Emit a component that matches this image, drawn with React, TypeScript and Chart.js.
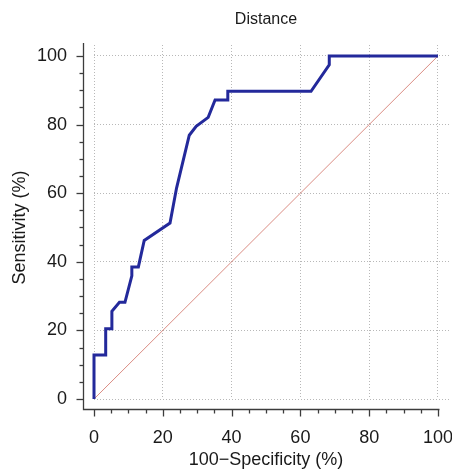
import React, { useEffect, useRef } from 'react';
import { Chart, registerables } from 'chart.js';

Chart.register(...registerables);

// ROC curve points (100 - specificity, sensitivity), in %
const fpr = [0, 0, 3.4, 3.4, 5.2, 5.2, 7.4, 9.0, 11.0, 11.0, 12.9, 14.6, 22.1, 24.0, 27.7, 29.7, 33.2, 35.2, 38.9, 38.9, 63.1, 68.4, 68.4, 100];
const tpr = [0, 12.8, 12.8, 20.5, 20.5, 25.6, 28.2, 28.2, 35.9, 38.5, 38.5, 46.2, 51.3, 61.5, 76.9, 79.5, 82.1, 87.2, 87.2, 89.7, 89.7, 97.4, 100, 100];

// Reference (chance) diagonal
const refX = [0, 100];
const refY = [0, 100];

const majorTicks = [0, 20, 40, 60, 80, 100];
const minorTicks = [0, 5, 10, 15, 20, 25, 30, 35, 40, 45, 50, 55, 60, 65, 70, 75, 80, 85, 90, 95, 100];

const chartTitle = 'Distance';
const xTitle = '100\u2212Specificity (%)';
const yTitle = 'Sensitivity (%)';

const FONT = '"Liberation Sans", Arial, Helvetica, sans-serif';
const TEXT = '#1a1a1a';

const axesPlugin = {
  id: 'rocAxes',
  afterDraw(chart: any) {
    const { ctx, chartArea, scales } = chart;
    const xs = scales.x;
    const ys = scales.y;
    const axisX = Math.round(chartArea.left - 11) + 0.5;
    const axisY = Math.round(chartArea.bottom + 10) + 0.5;
    ctx.save();
    ctx.strokeStyle = '#3c3c3c';
    ctx.lineWidth = 1.3;
    ctx.beginPath();
    ctx.moveTo(axisX, chartArea.top - 2);
    ctx.lineTo(axisX, axisY);
    ctx.lineTo(xs.getPixelForValue(100) + 1.5, axisY);
    ctx.stroke();
    for (const v of minorTicks) {
      const major = majorTicks.includes(v);
      const len = major ? 7 : 4;
      const py = Math.round(ys.getPixelForValue(v)) + 0.5;
      ctx.beginPath();
      ctx.moveTo(axisX - len, py);
      ctx.lineTo(axisX, py);
      ctx.stroke();
      const px = Math.round(xs.getPixelForValue(v)) + 0.5;
      ctx.beginPath();
      ctx.moveTo(px, axisY);
      ctx.lineTo(px, axisY + len);
      ctx.stroke();
    }
    ctx.fillStyle = TEXT;
    ctx.textAlign = 'center';
    ctx.textBaseline = 'middle';
    ctx.font = `16px ${FONT}`;
    ctx.fillText(chartTitle, xs.getPixelForValue(50), 20);
    ctx.font = `18px ${FONT}`;
    ctx.fillText(xTitle, xs.getPixelForValue(50), 460);
    ctx.translate(20, ys.getPixelForValue(50));
    ctx.rotate(-Math.PI / 2);
    ctx.fillText(yTitle, 0, 0);
    ctx.restore();
  },
};

export default function App() {
  const canvasRef = useRef<HTMLCanvasElement | null>(null);

  useEffect(() => {
    const canvas = canvasRef.current;
    if (!canvas) return;
    const gridCommon = {
      color: '#b8b8b8',
      lineWidth: 1,
      drawTicks: false,
      borderDash: [1, 2],
    };
    const zeroPad = (s: any) => {
      s.paddingLeft = 0;
      s.paddingRight = 0;
      s.paddingTop = 0;
      s.paddingBottom = 0;
    };
    const chart = new Chart(canvas, {
      type: 'line',
      data: {
        datasets: [
          {
            label: 'ROC',
            data: fpr.map((x, i) => ({ x, y: tpr[i] })),
            borderColor: '#23299b',
            borderWidth: 3,
            pointRadius: 0,
            tension: 0,
            fill: false,
            clip: false as any,
            borderJoinStyle: 'miter',
          },
          {
            label: 'Reference',
            data: refX.map((x, i) => ({ x, y: refY[i] })),
            borderColor: 'rgba(214,128,118,0.9)',
            borderWidth: 1,
            pointRadius: 0,
            tension: 0,
            fill: false,
            clip: false as any,
          },
        ],
      },
      options: {
        animation: false,
        responsive: false,
        maintainAspectRatio: false,
        layout: { padding: { top: 45, right: 2, left: 0, bottom: 0 } },
        plugins: {
          legend: { display: false },
          tooltip: { enabled: false },
          title: { display: false },
        },
        scales: {
          x: {
            type: 'linear',
            min: 0,
            max: 103.5,
            afterBuildTicks: (s: any) => {
              s.ticks = majorTicks.map((v) => ({ value: v }));
            },
            afterFit: (s: any) => {
              s.height = 70;
              zeroPad(s);
            },
            grid: gridCommon as any,
            border: { display: false, dash: [1, 2] } as any,
            ticks: {
              padding: 28,
              color: TEXT,
              autoSkip: false,
              maxRotation: 0,
              font: { size: 18, family: FONT },
            },
          },
          y: {
            type: 'linear',
            min: 0,
            max: 103.2,
            afterBuildTicks: (s: any) => {
              s.ticks = majorTicks.map((v) => ({ value: v }));
            },
            afterFit: (s: any) => {
              s.width = 94;
              zeroPad(s);
            },
            grid: gridCommon as any,
            border: { display: false, dash: [1, 2] } as any,
            ticks: {
              padding: 27,
              color: TEXT,
              autoSkip: false,
              font: { size: 18, family: FONT },
            },
          },
        },
      } as any,
      plugins: [axesPlugin],
    });
    return () => chart.destroy();
  }, []);

  return (
    <div style={{ position: 'fixed', left: 0, top: 0, width: 452, height: 469, background: '#fff' }}>
      <canvas ref={canvasRef} width={452} height={469} style={{ display: 'block' }} />
    </div>
  );
}
